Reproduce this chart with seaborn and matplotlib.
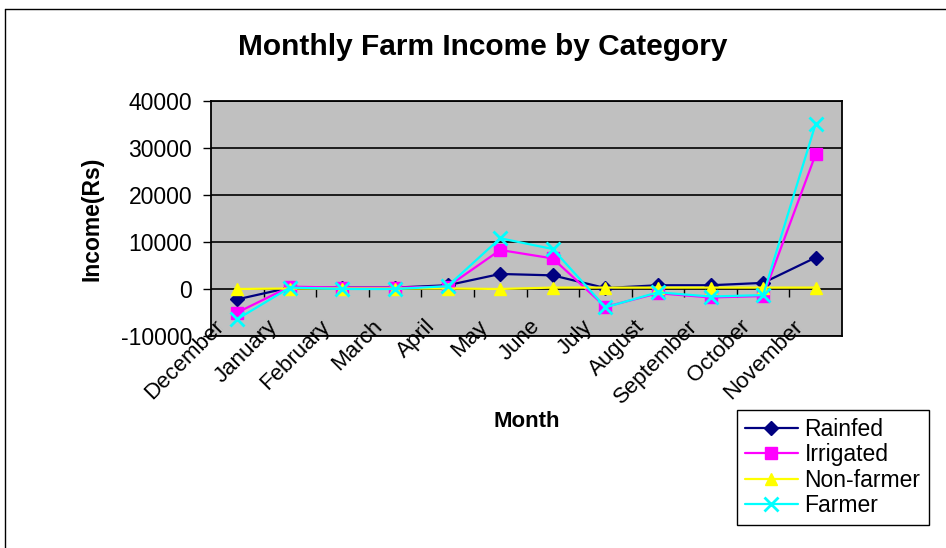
import numpy as np
import pandas as pd
import matplotlib
matplotlib.use("Agg")
import matplotlib.pyplot as plt
import matplotlib.transforms as mtransforms
import seaborn as sns
from matplotlib.lines import Line2D

months = ["December", "January", "February", "March", "April", "May", "June",
          "July", "August", "September", "October", "November"]
rainfed = [-2200, 300, 300, 300, 800, 3200, 2900, 200, 800, 800, 1300, 6700]
irrigated = [-5000, 500, 300, 300, 500, 8300, 6500, -3800, -900, -1800, -1500, 28700]
non_farmer = [0, 100, 100, 100, 100, 0, 300, 300, 300, 300, 300, 300]
farmer = [-6400, 300, 0, 0, 600, 10800, 8500, -3900, -700, -1600, -1300, 35200]

series_names = ["Rainfed", "Irrigated", "Non-farmer", "Farmer"]
colors = {"Rainfed": "#000080", "Irrigated": "#FF00FF", "Non-farmer": "#FFFF00", "Farmer": "#00FFFF"}
markers = {"Rainfed": "D", "Irrigated": "s", "Non-farmer": "^", "Farmer": "x"}
msizes = {"Rainfed": 7.5, "Irrigated": 9, "Non-farmer": 9, "Farmer": 10}

rows = []
for name, vals in zip(series_names, [rainfed, irrigated, non_farmer, farmer]):
    for i, v in enumerate(vals):
        rows.append({"idx": i, "Income": v, "Category": name})
df = pd.DataFrame(rows)

sns.set_theme(style="white")
plt.rcParams['font.family'] = ['Liberation Sans', 'DejaVu Sans']
for k in ["text.color", "axes.labelcolor", "xtick.color", "ytick.color"]:
    plt.rcParams[k] = "black"

fig = plt.figure(figsize=(9.46, 5.48), dpi=100)
L, R, T, B = 211, 842, 101, 336
ax = fig.add_axes([L/946, 1-B/548, (R-L)/946, (B-T)/548])
ax.set_facecolor("#C0C0C0")

for name in series_names:
    sub = df[df["Category"] == name]
    sns.lineplot(data=sub, x="idx", y="Income", ax=ax, color=colors[name],
                 marker=markers[name], markersize=msizes[name],
                 markeredgecolor=colors[name],
                 markeredgewidth=2 if name == "Farmer" else 1,
                 linewidth=1.6, sort=False, legend=False, zorder=3)

ax.set_xlim(-0.5, 11.5)
ax.set_ylim(-10000, 40000)
ax.set_yticks(np.arange(-10000, 40001, 10000))
ax.set_yticklabels([str(v) for v in range(-10000, 40001, 10000)], fontsize=16.5)
for y in range(-10000, 40001, 10000):
    ax.axhline(y, color="black", linewidth=1.2, zorder=1)

ax.set_xticks(range(len(months)))
ax.set_xticklabels(months, rotation=45, ha="right", va="center",
                   rotation_mode="anchor", fontsize=16)
ax.tick_params(axis="x", length=0, pad=-2)
ax.tick_params(axis="y", length=6, width=1, color="black", direction="out", left=True, pad=7.5)

offset = mtransforms.ScaledTranslation(-16/100, 10/100, fig.dpi_scale_trans)
for lab in ax.get_xticklabels():
    lab.set_transform(lab.get_transform() + offset)

# category boundary ticks on the zero line
ax.vlines(np.arange(0.5, 11.5, 1.0), -1600, 0, color="black", linewidth=1, zorder=2)

for s in ax.spines.values():
    s.set_visible(True)
    s.set_color("black")
    s.set_linewidth(1.3)

ax.set_xlabel("Month", fontsize=16, fontweight="bold")
ax.set_ylabel("Income(Rs)", fontsize=16.5, fontweight="bold")
ax.xaxis.set_label_coords((527-L)/(R-L), -(411-B)/(B-T))
ax.yaxis.set_label_coords(-(L-103)/(R-L), 0.5)

fig.text(483/946, 1-47/548, "Monthly Farm Income by Category", ha="center", va="center",
         fontsize=21.5, fontweight="bold")

handles = [Line2D([0], [0], color=colors[n], marker=markers[n], markersize=msizes[n],
                  markeredgecolor=colors[n], markeredgewidth=2 if n == "Farmer" else 1,
                  linewidth=1.6) for n in series_names]
leg = fig.legend(handles, series_names, loc="upper left",
                 bbox_to_anchor=(737/946, 1-410/548), fontsize=16.5, frameon=True,
                 fancybox=False, edgecolor="black", framealpha=1, borderpad=0.35,
                 labelspacing=0.1, handlelength=2.3, handletextpad=0.3, borderaxespad=0)
leg.get_frame().set_linewidth(1)

# outer chart frame
fig.add_artist(Line2D([5/946, 5/946], [0, 1-9/548], color="black", linewidth=1, transform=fig.transFigure))
fig.add_artist(Line2D([5/946, 1], [1-9/548, 1-9/548], color="black", linewidth=1, transform=fig.transFigure))

fig.savefig("out.png", dpi=100)
